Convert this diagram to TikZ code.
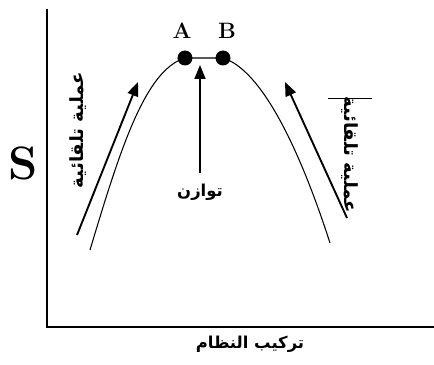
\documentclass[tikz,border=0pt]{standalone}
\usepackage{fontspec}
\usepackage{tikz}
\usetikzlibrary{arrows.meta}
\newfontfamily\arabicfont[Script=Arabic]{DejaVu Sans}
\TeXXeTstate=1

\begin{document}
\begin{tikzpicture}[x=0.03cm,y=-0.03cm,
  proc/.style={line width=1.6pt,-{Triangle[length=14*0.03cm,width=11*0.03cm]}},
  dot/.style={circle,fill=black,inner sep=0pt,minimum size=15*0.03cm},
  lab/.style={font=\bfseries\fontsize{19}{19}\selectfont},
  arlab/.style={font=\arabicfont\bfseries\fontsize{14}{14}\selectfont},
  arside/.style={font=\arabicfont\bfseries\fontsize{15.5}{15.5}\selectfont}]
\useasboundingbox (0,0) rectangle (434,365);
\coordinate (orig) at (47,327);
\coordinate (ytop) at (47,9);
\coordinate (xend) at (434,327);
\draw[line width=1.1pt] (ytop) -- (orig) -- (xend);
\node at (23,163) {\bfseries\fontsize{40}{40}\selectfont S};
\node[dot] (A) at (185,58) {};
\node[dot] (B) at (223,58) {};
\node[lab] (Alab) at (182,31) {A};
\node[lab] (Blab) at (227,31) {B};
\coordinate (lstart) at (90,250);
\coordinate (rend) at (330,243);
\draw[line width=0.9pt] (lstart) .. controls (120,150) and (145,70) .. (A.center)
  -- (B.center) .. controls (262,70) and (300,150) .. (rend);
\coordinate (l0) at (77,235);
\coordinate (l1) at (138,82);
\coordinate (c0) at (200,173);
\coordinate (c1) at (200,65);
\coordinate (r0) at (347,218);
\coordinate (r1) at (285,82);
\node[arlab] (eq) at (200,192) {\beginR توازن\endR};
\draw[proc] (c0) -- (c1);
\draw[proc] (l0) -- (l1);
\draw[proc] (r0) -- (r1);
\node[arside,rotate=90] (lproc) at (78,130) {\beginR عملية تلقائية\endR};
\node[arside,rotate=-90] (rproc) at (350,155) {\beginR عملية تلقائية\endR};
\coordinate (bar0) at (328,98);
\coordinate (bar1) at (372,98);
\draw[line width=0.8pt] (bar0) -- (bar1);
\node[arlab] (xlab) at (250,344) {\beginR تركيب النظام\endR};
\end{tikzpicture}
\end{document}
